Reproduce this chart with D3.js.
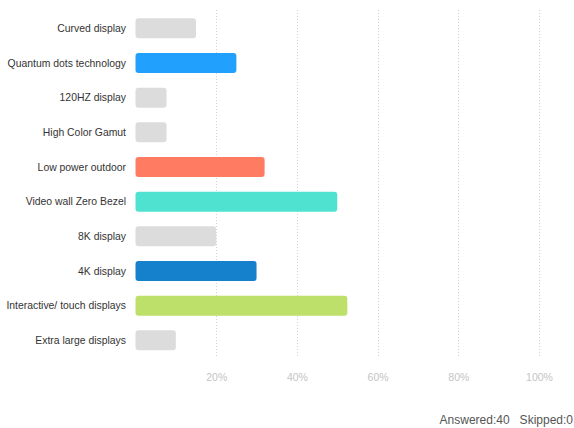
<!DOCTYPE html>
<html><head><meta charset="utf-8">
<script src="https://cdn.jsdelivr.net/npm/d3@7"></script>
<style>body{margin:0;background:#fff;} svg{display:block;font-family:"Liberation Sans",Arial,Helvetica,sans-serif;}</style>
</head><body>
<script>
const categories = ["Curved display","Quantum dots technology","120HZ display","High Color Gamut","Low power outdoor","Video wall Zero Bezel","8K display","4K display","Interactive/ touch displays","Extra large displays"];
const values = [15, 25, 7.7, 7.7, 32, 50, 20, 30, 52.5, 10];
const colors = ["#dcdcdc","#21a1fd","#dcdcdc","#dcdcdc","#ff7c63","#50e2d0","#dcdcdc","#1581cd","#bce06a","#dcdcdc"];
const ticks = [20, 40, 60, 80, 100];
const answered = 40, skipped = 0;

const W = 574, H = 428;
const svg = d3.select("body").append("svg").attr("width", W).attr("height", H);
const x = d3.scaleLinear().domain([0, 100]).range([135.5, 539]);
const y = d3.scaleBand().domain(categories).range([11, 357.7]).paddingInner(0.423).paddingOuter(0.2115);

svg.append("g").selectAll("line").data(ticks).join("line")
  .attr("x1", d => Math.round(x(d)) + 0.5).attr("x2", d => Math.round(x(d)) + 0.5)
  .attr("y1", 10).attr("y2", 358)
  .attr("stroke", "#d4d4d4").attr("stroke-width", 1).attr("stroke-dasharray", "1,2");

const axis = d3.axisBottom(x).tickValues(ticks).tickFormat(d => d + "%").tickSize(0).tickPadding(0);
const ag = svg.append("g").attr("transform", "translate(0,381)").call(axis);
ag.select(".domain").remove();
ag.selectAll("text").attr("fill", "#c4c4c4").attr("font-size", 10.5).attr("dy", 0).attr("font-family", "Liberation Sans, Arial, sans-serif");

svg.append("g").selectAll("rect").data(categories).join("rect")
  .attr("x", x(0)).attr("y", d => y(d)).attr("height", y.bandwidth())
  .attr("width", (d, i) => x(values[i]) - x(0))
  .attr("rx", 3).attr("fill", (d, i) => colors[i]);

svg.append("g").selectAll("text").data(categories).join("text")
  .attr("x", 126).attr("y", d => y(d) + y.bandwidth() / 2).attr("dy", "0.35em")
  .attr("text-anchor", "end").attr("font-size", 10.4).attr("fill", "#333").text(d => d);

svg.append("text").attr("x", 573).attr("y", 424).attr("text-anchor", "end")
  .attr("font-size", 12).attr("fill", "#555")
  .text(`Answered:${answered}\u00a0\u00a0\u00a0Skipped:${skipped}`);
</script>
</body></html>
